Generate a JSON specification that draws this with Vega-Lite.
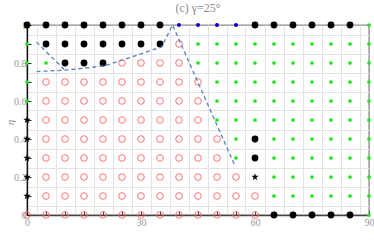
{
  "$schema": "https://vega.github.io/schema/vega-lite/v6.json",
  "width": 342,
  "height": 190,
  "autosize": {"type": "none"},
  "padding": {"left": 27, "top": 25, "right": 5, "bottom": 27},
  "background": "white",
  "config": {"view": {"stroke": "#8c8c8c", "strokeWidth": 1.4}, "font": "Liberation Serif"},
  "title": {"text": "(c) γ=25°", "fontSize": 12, "font": "Liberation Serif", "fontWeight": "normal", "color": "#8a8a8a", "offset": 5, "anchor": "middle"},
  "datasets": {
    "pts": [
      {"x":0,"y":1,"t":"B"},{"x":5,"y":1,"t":"B"},{"x":10,"y":1,"t":"B"},{"x":15,"y":1,"t":"B"},{"x":20,"y":1,"t":"B"},{"x":25,"y":1,"t":"B"},{"x":30,"y":1,"t":"B"},{"x":35,"y":1,"t":"B"},{"x":40,"y":1,"t":"U"},{"x":45,"y":1,"t":"U"},{"x":50,"y":1,"t":"U"},{"x":55,"y":1,"t":"U"},{"x":60,"y":1,"t":"B"},{"x":65,"y":1,"t":"B"},{"x":70,"y":1,"t":"B"},{"x":75,"y":1,"t":"B"},{"x":80,"y":1,"t":"B"},{"x":85,"y":1,"t":"B"},{"x":90,"y":1,"t":"G"},
      {"x":0,"y":0.9,"t":"G"},{"x":5,"y":0.9,"t":"B"},{"x":10,"y":0.9,"t":"B"},{"x":15,"y":0.9,"t":"B"},{"x":20,"y":0.9,"t":"B"},{"x":25,"y":0.9,"t":"B"},{"x":30,"y":0.9,"t":"B"},{"x":35,"y":0.9,"t":"B"},{"x":40,"y":0.9,"t":"R"},{"x":45,"y":0.9,"t":"G"},{"x":50,"y":0.9,"t":"G"},{"x":55,"y":0.9,"t":"G"},{"x":60,"y":0.9,"t":"G"},{"x":65,"y":0.9,"t":"G"},{"x":70,"y":0.9,"t":"G"},{"x":75,"y":0.9,"t":"G"},{"x":80,"y":0.9,"t":"G"},{"x":85,"y":0.9,"t":"G"},{"x":90,"y":0.9,"t":"G"},
      {"x":0,"y":0.8,"t":"G"},{"x":5,"y":0.8,"t":"G"},{"x":10,"y":0.8,"t":"B"},{"x":15,"y":0.8,"t":"B"},{"x":20,"y":0.8,"t":"B"},{"x":25,"y":0.8,"t":"R"},{"x":30,"y":0.8,"t":"R"},{"x":35,"y":0.8,"t":"R"},{"x":40,"y":0.8,"t":"R"},{"x":45,"y":0.8,"t":"G"},{"x":50,"y":0.8,"t":"G"},{"x":55,"y":0.8,"t":"G"},{"x":60,"y":0.8,"t":"G"},{"x":65,"y":0.8,"t":"G"},{"x":70,"y":0.8,"t":"G"},{"x":75,"y":0.8,"t":"G"},{"x":80,"y":0.8,"t":"G"},{"x":85,"y":0.8,"t":"G"},{"x":90,"y":0.8,"t":"G"},
      {"x":0,"y":0.7,"t":"G"},{"x":5,"y":0.7,"t":"R"},{"x":10,"y":0.7,"t":"R"},{"x":15,"y":0.7,"t":"R"},{"x":20,"y":0.7,"t":"R"},{"x":25,"y":0.7,"t":"R"},{"x":30,"y":0.7,"t":"R"},{"x":35,"y":0.7,"t":"R"},{"x":40,"y":0.7,"t":"R"},{"x":45,"y":0.7,"t":"R"},{"x":50,"y":0.7,"t":"G"},{"x":55,"y":0.7,"t":"G"},{"x":60,"y":0.7,"t":"G"},{"x":65,"y":0.7,"t":"G"},{"x":70,"y":0.7,"t":"G"},{"x":75,"y":0.7,"t":"G"},{"x":80,"y":0.7,"t":"G"},{"x":85,"y":0.7,"t":"G"},{"x":90,"y":0.7,"t":"G"},
      {"x":0,"y":0.6,"t":"G"},{"x":5,"y":0.6,"t":"R"},{"x":10,"y":0.6,"t":"R"},{"x":15,"y":0.6,"t":"R"},{"x":20,"y":0.6,"t":"R"},{"x":25,"y":0.6,"t":"R"},{"x":30,"y":0.6,"t":"R"},{"x":35,"y":0.6,"t":"R"},{"x":40,"y":0.6,"t":"R"},{"x":45,"y":0.6,"t":"R"},{"x":50,"y":0.6,"t":"G"},{"x":55,"y":0.6,"t":"G"},{"x":60,"y":0.6,"t":"G"},{"x":65,"y":0.6,"t":"G"},{"x":70,"y":0.6,"t":"G"},{"x":75,"y":0.6,"t":"G"},{"x":80,"y":0.6,"t":"G"},{"x":85,"y":0.6,"t":"G"},{"x":90,"y":0.6,"t":"G"},
      {"x":0,"y":0.5,"t":"S"},{"x":5,"y":0.5,"t":"R"},{"x":10,"y":0.5,"t":"R"},{"x":15,"y":0.5,"t":"R"},{"x":20,"y":0.5,"t":"R"},{"x":25,"y":0.5,"t":"R"},{"x":30,"y":0.5,"t":"R"},{"x":35,"y":0.5,"t":"R"},{"x":40,"y":0.5,"t":"R"},{"x":45,"y":0.5,"t":"R"},{"x":50,"y":0.5,"t":"G"},{"x":55,"y":0.5,"t":"G"},{"x":60,"y":0.5,"t":"G"},{"x":65,"y":0.5,"t":"G"},{"x":70,"y":0.5,"t":"G"},{"x":75,"y":0.5,"t":"G"},{"x":80,"y":0.5,"t":"G"},{"x":85,"y":0.5,"t":"G"},{"x":90,"y":0.5,"t":"G"},
      {"x":0,"y":0.4,"t":"S"},{"x":5,"y":0.4,"t":"R"},{"x":10,"y":0.4,"t":"R"},{"x":15,"y":0.4,"t":"R"},{"x":20,"y":0.4,"t":"R"},{"x":25,"y":0.4,"t":"R"},{"x":30,"y":0.4,"t":"R"},{"x":35,"y":0.4,"t":"R"},{"x":40,"y":0.4,"t":"R"},{"x":45,"y":0.4,"t":"R"},{"x":50,"y":0.4,"t":"R"},{"x":55,"y":0.4,"t":"G"},{"x":60,"y":0.4,"t":"B"},{"x":65,"y":0.4,"t":"G"},{"x":70,"y":0.4,"t":"G"},{"x":75,"y":0.4,"t":"G"},{"x":80,"y":0.4,"t":"G"},{"x":85,"y":0.4,"t":"G"},{"x":90,"y":0.4,"t":"G"},
      {"x":0,"y":0.3,"t":"S"},{"x":5,"y":0.3,"t":"R"},{"x":10,"y":0.3,"t":"R"},{"x":15,"y":0.3,"t":"R"},{"x":20,"y":0.3,"t":"R"},{"x":25,"y":0.3,"t":"R"},{"x":30,"y":0.3,"t":"R"},{"x":35,"y":0.3,"t":"R"},{"x":40,"y":0.3,"t":"R"},{"x":45,"y":0.3,"t":"R"},{"x":50,"y":0.3,"t":"R"},{"x":55,"y":0.3,"t":"G"},{"x":60,"y":0.3,"t":"B"},{"x":65,"y":0.3,"t":"G"},{"x":70,"y":0.3,"t":"G"},{"x":75,"y":0.3,"t":"G"},{"x":80,"y":0.3,"t":"G"},{"x":85,"y":0.3,"t":"G"},{"x":90,"y":0.3,"t":"G"},
      {"x":0,"y":0.2,"t":"S"},{"x":5,"y":0.2,"t":"R"},{"x":10,"y":0.2,"t":"R"},{"x":15,"y":0.2,"t":"R"},{"x":20,"y":0.2,"t":"R"},{"x":25,"y":0.2,"t":"R"},{"x":30,"y":0.2,"t":"R"},{"x":35,"y":0.2,"t":"R"},{"x":40,"y":0.2,"t":"R"},{"x":45,"y":0.2,"t":"R"},{"x":50,"y":0.2,"t":"R"},{"x":55,"y":0.2,"t":"R"},{"x":60,"y":0.2,"t":"S"},{"x":65,"y":0.2,"t":"G"},{"x":70,"y":0.2,"t":"G"},{"x":75,"y":0.2,"t":"G"},{"x":80,"y":0.2,"t":"G"},{"x":85,"y":0.2,"t":"G"},{"x":90,"y":0.2,"t":"G"},
      {"x":0,"y":0.1,"t":"S"},{"x":5,"y":0.1,"t":"R"},{"x":10,"y":0.1,"t":"R"},{"x":15,"y":0.1,"t":"R"},{"x":20,"y":0.1,"t":"R"},{"x":25,"y":0.1,"t":"R"},{"x":30,"y":0.1,"t":"R"},{"x":35,"y":0.1,"t":"R"},{"x":40,"y":0.1,"t":"R"},{"x":45,"y":0.1,"t":"R"},{"x":50,"y":0.1,"t":"R"},{"x":55,"y":0.1,"t":"R"},{"x":60,"y":0.1,"t":"R"},{"x":65,"y":0.1,"t":"G"},{"x":70,"y":0.1,"t":"G"},{"x":75,"y":0.1,"t":"G"},{"x":80,"y":0.1,"t":"G"},{"x":85,"y":0.1,"t":"G"},{"x":90,"y":0.1,"t":"G"},
      {"x":0,"y":0,"t":"R"},{"x":5,"y":0,"t":"R"},{"x":10,"y":0,"t":"R"},{"x":15,"y":0,"t":"R"},{"x":20,"y":0,"t":"R"},{"x":25,"y":0,"t":"R"},{"x":30,"y":0,"t":"R"},{"x":35,"y":0,"t":"R"},{"x":40,"y":0,"t":"R"},{"x":45,"y":0,"t":"R"},{"x":50,"y":0,"t":"R"},{"x":55,"y":0,"t":"R"},{"x":60,"y":0,"t":"R"},{"x":65,"y":0,"t":"B"},{"x":70,"y":0,"t":"B"},{"x":75,"y":0,"t":"B"},{"x":80,"y":0,"t":"B"},{"x":85,"y":0,"t":"B"},{"x":90,"y":0,"t":"G"}
    ],
    "ln": [
      {"seg":"a","o":1,"x":2.5,"y":0.91},{"seg":"a","o":2,"x":10,"y":0.762},
      {"seg":"b","o":1,"x":2.5,"y":0.755},{"seg":"b","o":2,"x":10,"y":0.762},{"seg":"b","o":3,"x":20.5,"y":0.785},{"seg":"b","o":4,"x":35.4,"y":0.884},{"seg":"b","o":5,"x":38.3,"y":1.0},{"seg":"b","o":6,"x":54.6,"y":0.265}
    ]
  },
  "encoding": {
    "x": {"field": "x", "type": "quantitative", "scale": {"domain": [0, 90], "nice": false, "zero": false},
      "axis": {"orient": "bottom", "values": [0,2.5,5,7.5,10,12.5,15,17.5,20,22.5,25,27.5,30,32.5,35,37.5,40,42.5,45,47.5,50,52.5,55,57.5,60,62.5,65,67.5,70,72.5,75,77.5,80,82.5,85,87.5,90],
        "grid": true, "gridColor": "#e3e3e3", "gridWidth": 1,
        "gridOpacity": {"condition": {"test": "datum.value % 5 !== 0", "value": 1}, "value": 0},
        "tickOpacity": {"condition": {"test": "datum.value % 5 === 0", "value": 1}, "value": 0},
        "tickSize": -4, "tickColor": "#444", "tickWidth": 1,
        "labelExpr": "datum.value % 30 === 0 ? datum.label : ''",
        "labelFont": "Liberation Serif", "labelFontSize": 10, "labelColor": "#999", "labelPadding": 6, "labelOverlap": false, "labelFlush": false,
        "domainColor": "#444", "domainWidth": 1.3, "title": null}},
    "y": {"field": "y", "type": "quantitative", "scale": {"domain": [0, 1], "nice": false, "zero": false},
      "axis": {"orient": "left", "values": [0,0.05,0.1,0.15,0.2,0.25,0.3,0.35,0.4,0.45,0.5,0.55,0.6,0.65,0.7,0.75,0.8,0.85,0.9,0.95,1],
        "grid": true, "gridColor": "#e3e3e3", "gridWidth": 1,
        "gridOpacity": {"condition": {"test": "round(datum.value*20) % 2 === 1", "value": 1}, "value": 0},
        "tickOpacity": {"condition": {"test": "round(datum.value*20) % 2 === 0", "value": 1}, "value": 0},
        "tickSize": -4, "tickColor": "#222", "tickWidth": 1,
        "labelExpr": "round(datum.value*20) % 4 === 0 ? format(datum.value, '~g') : ''",
        "labelFont": "Liberation Serif", "labelFontSize": 10, "labelColor": "#999", "labelPadding": 5, "labelOverlap": false, "labelFlush": false,
        "domainColor": "#111", "domainWidth": 1.3,
        "title": "η", "titleFont": "Liberation Serif", "titleFontStyle": "italic", "titleFontWeight": "normal", "titleFontSize": 11, "titleColor": "#888", "titleX": -17, "titleY": 97, "titleAngle": -90, "titleAlign": "center", "titleBaseline": "middle"}}
  },
  "layer": [
    {"data": {"name": "pts"}, "transform": [{"filter": "datum.t === 'R'"}], "mark": {"type": "point", "shape": "circle", "filled": false, "stroke": "#ff6262", "strokeWidth": 0.9, "size": 44, "opacity": 1}},
    {"data": {"name": "pts"}, "transform": [{"filter": "datum.t === 'G'"}], "mark": {"type": "point", "shape": "circle", "filled": true, "fill": "#1ee61e", "size": 14, "opacity": 1}},
    {"data": {"name": "pts"}, "transform": [{"filter": "datum.t === 'U'"}], "mark": {"type": "point", "shape": "circle", "filled": true, "fill": "#0000c8", "size": 16, "opacity": 1}},
    {"data": {"name": "pts"}, "transform": [{"filter": "datum.t === 'B'"}], "mark": {"type": "point", "shape": "circle", "filled": true, "fill": "#000000", "size": 46, "opacity": 1}},
    {"data": {"name": "pts"}, "transform": [{"filter": "datum.t === 'S'"}], "mark": {"type": "point", "shape": "M0,-1L0.2245,-0.309L0.951,-0.309L0.363,0.118L0.588,0.809L0,0.382L-0.588,0.809L-0.363,0.118L-0.951,-0.309L-0.2245,-0.309Z", "filled": true, "fill": "#000000", "size": 60, "opacity": 1}},
    {"data": {"name": "ln"}, "mark": {"type": "line", "stroke": "#5581c4", "strokeWidth": 1.3, "strokeDash": [4, 3]},
      "encoding": {"detail": {"field": "seg"}, "order": {"field": "o", "type": "quantitative"}}}
  ]
}
